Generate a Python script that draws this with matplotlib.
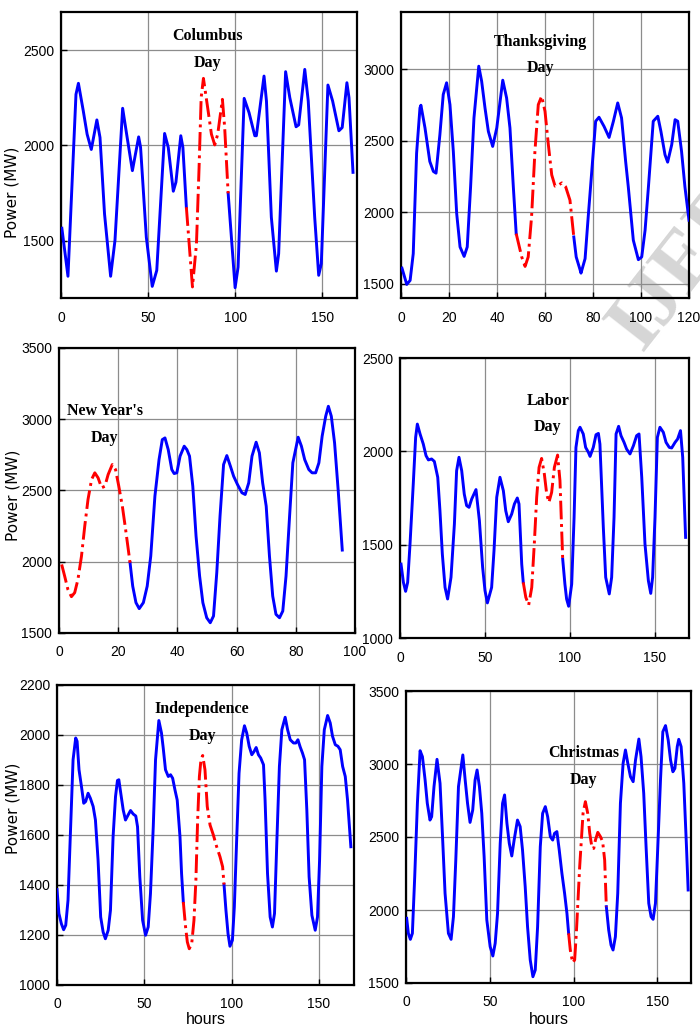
import numpy as np
import matplotlib
matplotlib.use('Agg')
import matplotlib.pyplot as plt

# hourly load around holidays
# each panel: hours, MW, and the (start, end) hour of the holiday part (red)

columbus_hours = [0.5, 4, 8.6, 10, 12.8, 15, 17.4, 20.6, 22.4, 25, 28.5, 31, 35.4, 37.7, 41, 44.6, 45.7, 49, 52.4, 55,
                  59.5, 61.6, 64.5, 66, 68.8, 70, 72,
                  75.5, 77.8, 79.3, 80.5, 81.8, 84.5, 86.4, 88.3, 90, 92.7, 94, 96,
                  100, 101.7, 105.2, 108, 111.3, 112.2, 116.6, 118, 120.8, 123.7, 125, 129, 131.4, 135, 136.5, 140,
                  142, 145.7, 148, 149.5, 153.3, 156, 159.6, 161.5, 164.2, 165.4, 167.7]
columbus_mw = [1566, 1314, 2268, 2326, 2181, 2059, 1979, 2134, 2042, 1641, 1314, 1502, 2195, 2059, 1868, 2045, 1990,
               1519, 1261, 1345, 2063, 1990, 1760, 1807, 2051, 1990, 1676,
               1258, 1484, 1885, 2251, 2352, 2181, 2059, 2003, 2059, 2242, 2094, 1749,
               1254, 1362, 2247, 2172, 2051, 2051, 2364, 2233, 1624, 1341, 1432, 2387, 2251, 2098, 2108, 2399,
               2233, 1624, 1319, 1380, 2317, 2233, 2077, 2094, 2329, 2251, 1859]
columbus_holiday = (72, 96)

thanks_hours = [0.4, 2.4, 3.8, 5.1, 6.5, 7.9, 8.3, 10, 12, 13.5, 14.6, 16.2, 17.6, 19, 20.4, 21.8, 23.2, 24.6, 26.3,
                27.6, 29, 30.4, 32.4, 33.6, 35, 36.4, 38.2, 39.9, 42.4, 44, 45.4, 46.8, 48,
                50.3, 51.7, 53, 54.4, 55.8, 57.2, 58.6, 60, 61.4, 62.8, 64.2, 65.6, 67, 68.6, 70.4, 72,
                73, 74.6, 75, 76.7, 78, 79.7, 81.1, 82.5, 84.6, 86.7, 88.5, 90.3, 91.9, 93.6, 94.7, 96.8, 98.9,
                100.3, 101.7, 103.1, 105.1, 107, 108.3, 110, 111.1, 112.8, 114.2, 115.3, 116.9, 118.3, 120]
thanks_mw = [1609, 1495, 1523, 1710, 2412, 2729, 2748, 2589, 2355, 2285, 2273, 2542, 2823, 2905, 2752, 2425, 1991,
             1757, 1691, 1757, 2178, 2659, 3021, 2916, 2729, 2565, 2460, 2589, 2923, 2799, 2589, 2178, 1850,
             1687, 1621, 1687, 1967, 2425, 2752, 2811, 2706, 2472, 2261, 2182, 2189, 2205, 2178, 2084, 1827,
             1687, 1598, 1574, 1675, 1967, 2332, 2636, 2664, 2600, 2523, 2636, 2764, 2659, 2355, 2178, 1804, 1668,
             1687, 1874, 2178, 2636, 2671, 2565, 2402, 2350, 2472, 2647, 2636, 2425, 2178, 1944]
thanks_holiday = (48, 72)

newyear_hours = [0.9, 1.9, 3, 4.2, 5.3, 6.4, 7.6, 8.7, 9.8, 11, 12.1, 13.2, 14.4, 15.5, 16.6, 18, 19.1, 20.2, 21.4,
                 22.5, 24,
                 24.9, 26, 27.1, 28.5, 29.8, 31, 32.4, 33.8, 34.9, 35.8, 36.9, 38.1, 38.9, 39.8, 40.9, 42.3, 43.2,
                 44.1, 45.2, 46.3, 47.5, 48.6, 49.9, 51.1, 52.2, 53.3, 54.4, 55.6, 56.7, 57.9, 59, 60.3, 61.8,
                 62.9, 64.1, 65.2, 66.6, 67.7, 68.8, 70, 71.1, 72.2, 73.3, 74.5, 75.6, 76.7, 77.9, 79, 80.8, 81.9,
                 83, 84.4, 85.5, 86.7, 87.8, 88.9, 90.1, 91, 92, 93.1, 94.3, 95.7]
newyear_mw = [1981, 1900, 1806, 1755, 1783, 1876, 2040, 2250, 2437, 2577, 2624, 2589, 2519, 2530, 2612, 2682, 2647,
              2530, 2390, 2227, 1993,
              1829, 1713, 1671, 1713, 1829, 2040, 2460, 2717, 2857, 2869, 2787, 2647, 2619, 2624, 2741, 2811, 2787,
              2741, 2530, 2180, 1900, 1713, 1607, 1572, 1619, 1923, 2320, 2682, 2745, 2671, 2600, 2542, 2484,
              2472, 2554, 2741, 2839, 2764, 2554, 2390, 2040, 1759, 1631, 1607, 1654, 1900, 2320, 2694, 2874, 2811,
              2717, 2647, 2624, 2624, 2694, 2881, 3021, 3091, 3021, 2834, 2507, 2082]
newyear_holiday = (0, 24)

labor_hours = [0.6, 2, 3.3, 4.5, 5.9, 7.8, 9.2, 10.2, 11.8, 13.7, 15.3, 16.7, 18.6, 20.2, 22.2, 23.5, 24.9, 26.5, 28,
               30, 32, 33.3, 34.7, 36.3, 37.8, 39.2, 40.6, 42.2, 44.7, 46.7, 48.6, 50, 51.4, 53.9, 55.3, 56.9, 58.8,
               60.8, 62.2, 63.7, 65.7, 67.3, 69, 70, 71.6, 72.5,
               74, 75.7, 77.5, 79, 80.4, 81.8, 83.3, 84.9, 86.3, 87.6, 89.2, 90.8, 92.7, 94.1, 95.7,
               97, 98, 99.2, 101, 102.4, 103.5, 104.9, 105.9, 107.8, 109.2, 110.8, 111.8, 113.7, 115.3, 116.7, 117.6,
               119.6, 121, 123.1, 124.5, 125.9, 127.1, 128.6, 130, 131.8, 133.3, 135.3, 137.3, 139.2, 140.6, 142.2,
               144.1, 146.1, 147.5, 148.6, 150, 151.4, 152.9, 154.9, 156.5, 158.4, 159.8, 161.8, 163.3, 165, 166.3,
               168]
labor_mw = [1396, 1298, 1250, 1298, 1504, 1825, 2075, 2146, 2093, 2039, 1977, 1954, 1959, 1946, 1861, 1682, 1450, 1271,
            1209, 1325, 1611, 1896, 1968, 1896, 1771, 1709, 1700, 1745, 1795, 1629, 1379, 1254, 1188, 1271, 1468, 1754,
            1861, 1789, 1682, 1623, 1664, 1718, 1750, 1718, 1396, 1298,
            1218, 1177, 1271, 1504, 1754, 1914, 1962, 1879, 1771, 1727, 1780, 1914, 1980, 1843, 1423,
            1289, 1209, 1170, 1289, 1646, 2021, 2111, 2129, 2093, 2021, 1995, 1973, 2021, 2089, 2096, 2039,
            1593, 1325, 1236, 1325, 1646, 2093, 2134, 2084, 2048, 2012, 1986, 2030, 2084, 2093, 1861,
            1504, 1307, 1239, 1325, 1646, 2075, 2129, 2102, 2048, 2021, 2018, 2048, 2066, 2111, 1968,
            1539]
labor_holiday = (72.5, 95.7)

indep_hours = [0, 1.1, 2.5, 3.8, 5, 6.3, 7.6, 9.2, 10.7, 11.5, 12.6, 14, 15.3, 16.4, 17.8, 19.1, 20.7, 22, 23.5, 25,
               26.4, 27.7, 29.3, 30.6, 32.1, 33.5, 34.6, 35.4, 36.5, 37.9, 39.2, 40.7, 42.1, 43.6, 45.1, 46.1, 47.4,
               49, 50.7, 52.2, 53.5, 55.1, 56.4, 58.3, 59.8, 60.8, 62.1, 63.7, 65, 66.2, 67.5, 68.8, 70.4, 71.3, 72.3,
               73.6, 74.6, 75.7, 77.1, 78.4, 79.5, 80.5, 81.5, 82.4, 83.4, 84.7, 86, 87.6, 89.5, 91.4, 93.3, 94.8,
               95.6,
               96.7, 97.9, 99, 100.4, 101.5, 102.9, 104.2, 105.7, 107.3, 108.6, 110, 111.5, 112.8, 114, 115.3, 116.6,
               118.2, 119.1, 120.5, 122, 123.3, 124.5, 125.8, 127.3, 128.7, 130.6, 132, 133.5, 135.4, 136.7, 137.9,
               139.2, 140.5, 141.7, 143, 144.3, 145.9, 147.8, 149.1, 150.3, 151.6, 153, 154.9, 156.4, 157.7, 159.3,
               160.8, 162.1, 163.5, 165, 166.3, 168.2]
indep_mw = [1382, 1286, 1245, 1221, 1239, 1339, 1593, 1901, 1988, 1975, 1861, 1794, 1727, 1734, 1767, 1747, 1714, 1660,
            1500, 1272, 1212, 1185, 1219, 1299, 1593, 1754, 1818, 1821, 1767, 1700, 1660, 1680, 1698, 1684, 1676, 1633,
            1433, 1259, 1199, 1232, 1366, 1633, 1901, 2058, 2008, 1948, 1861, 1834, 1841, 1827, 1781, 1740, 1593, 1446,
            1332,
            1232, 1172, 1145, 1165, 1259, 1419, 1660, 1834, 1901, 1918, 1861, 1714, 1640, 1600, 1553, 1513, 1473, 1402,
            1299, 1205, 1155, 1179, 1312, 1593, 1847, 1981, 2037, 2008, 1955, 1921, 1934, 1950, 1921, 1908,
            1881, 1740, 1446, 1272, 1232, 1286, 1567, 1874, 2021, 2071, 2021, 1981, 1968, 1968, 1981,
            1952, 1928, 1901, 1700, 1433, 1279, 1219, 1272, 1500, 1874, 2021, 2078, 2048, 1995, 1961,
            1955, 1941, 1874, 1834, 1740, 1553]
indep_holiday = (72.3, 95.6)

xmas_hours = [0.4, 1.4, 2.6, 3.8, 5.2, 6.8, 8.4, 9.8, 11.4, 12.7, 14.3, 15.3, 16.7, 18.5, 20.3, 21.7, 23.3, 25.3, 26.9,
              28.3, 29.7, 31.3, 33.9, 35.3, 36.7, 38.2, 39.8, 41.2, 42.4, 43.8, 45.2, 46.6, 48.2, 50.2, 51.8, 53.2,
              54.6, 56.2, 57.6, 58.8, 60.2, 61.6, 63.1, 64.5, 66.5, 68.1, 69.5, 71.1, 72.5, 74.1, 75.7, 77.1, 78.5,
              80.1, 81.5, 83.1, 84.5, 86.1, 87.5, 88.6, 90, 91.4, 93, 94.6, 96, 97,
              98, 99.4, 100.6, 101.6, 102.6, 103.6, 104.6, 105.6, 107, 108.4, 109.6, 111, 112, 113, 114.4, 116,
              117.3, 118.5, 119.5,
              120.9, 122.3, 123.5, 124.9, 126.3, 127.9, 129.5, 130.9, 132.3, 133.9, 135.5, 136.9, 138.9, 140.2,
              141.8, 143.2, 144.8, 146.2, 147.4, 148.8, 150.2, 151.8, 153.2, 154.8, 156.4, 157.8, 159.2, 160.4,
              161.8, 162.7, 164.1, 165.7, 167.3, 168.3]
xmas_mw = [1943, 1840, 1799, 1840, 2228, 2731, 3091, 3050, 2890, 2731, 2616, 2639, 2845, 3032, 2868, 2525, 2114, 1840,
           1799, 1954, 2342, 2845, 3062, 2890, 2731, 2600, 2685, 2890, 2959, 2845, 2662, 2365, 1932, 1749, 1685, 1772,
           1977, 2457, 2731, 2788, 2594, 2457, 2370, 2479, 2616, 2571, 2411, 2160, 1886, 1658, 1543, 1589, 1886,
           2434, 2662, 2708, 2639, 2502, 2479, 2525, 2537, 2411, 2251, 2114, 1977, 1840,
           1726, 1639, 1658, 1840, 2068, 2297, 2479, 2662, 2742, 2662, 2525, 2422, 2422, 2479, 2532, 2502,
           2468, 2342, 2023,
           1863, 1760, 1726, 1817, 2114, 2731, 3005, 3096, 3005, 2913, 2879, 3027, 3171, 3050,
           2799, 2434, 2046, 1954, 1936, 2046, 2434, 2890, 3221, 3263, 3164, 3027, 2947, 2970,
           3119, 3169, 3119, 2868, 2434, 2137]
xmas_holiday = (97, 119.5)

# axes boxes in pixels (left, top, right, bottom) on a 700x1032 canvas
W, H = 700, 1032
boxes = [(61, 12, 357, 298), (401, 12, 689, 298),
         (59, 348, 355, 633), (400, 358, 689, 638),
         (57, 685, 354, 985), (406, 691, 691, 983)]

panels = [
    # hours, mw, holiday, xlim, ylim, yticks, xticks, label, label pos
    (columbus_hours, columbus_mw, columbus_holiday, (0, 170), (1200, 2700), [1500, 2000, 2500],
     [0, 50, 100, 150], 'Columbus\nDay', (84, 2505)),
    (thanks_hours, thanks_mw, thanks_holiday, (0, 120), (1400, 3400), [1500, 2000, 2500, 3000],
     [0, 20, 40, 60, 80, 100, 120], 'Thanksgiving\nDay', (58, 3100)),
    (newyear_hours, newyear_mw, newyear_holiday, (0, 100), (1500, 3500), [1500, 2000, 2500, 3000, 3500],
     [0, 20, 40, 60, 80, 100], "New Year's\nDay", (15.5, 2965)),
    (labor_hours, labor_mw, labor_holiday, (0, 170), (1000, 2500), [1000, 1500, 2000, 2500],
     [0, 50, 100, 150], 'Labor\nDay', (87, 2200)),
    (indep_hours, indep_mw, indep_holiday, (0, 170), (1000, 2200), [1000, 1200, 1400, 1600, 1800, 2000, 2200],
     [0, 50, 100, 150], 'Independence\nDay', (83, 2050)),
    (xmas_hours, xmas_mw, xmas_holiday, (0, 170), (1500, 3500), [1500, 2000, 2500, 3000, 3500],
     [0, 50, 100, 150], 'Christmas\nDay', (106, 2983)),
]

# where the "Power (MW)" label sits (pixel y of its centre) for the left column
ylabel_y = {0: 192, 2: 495, 4: 808}

tick_font = ['Liberation Sans']
label_font = ['Liberation Serif']

fig = plt.figure(figsize=(W / 100, H / 100), dpi=100)

# journal watermark, drawn under the (transparent) axes
fig.text(0.852, 0.648, 'IJERT', rotation=52, fontsize=60, family='Liberation Serif', fontweight='bold',
         color='#d6d6d6', ha='left', va='bottom', zorder=-5)

for i, (box, p) in enumerate(zip(boxes, panels)):
    hrs, mw, hol, xl, yl, yt, xt, txt, tpos = p
    hrs = np.array(hrs)
    mw = np.array(mw)
    l, t, r, b = box
    ax = fig.add_axes([l / W, 1 - b / H, (r - l) / W, (b - t) / H])
    ax.patch.set_alpha(0)

    before = hrs <= hol[0]
    during = (hrs >= hol[0]) & (hrs <= hol[1])
    after = hrs >= hol[1]
    ax.plot(hrs[before], mw[before], color='#0000ff', lw=2.1, zorder=3)
    ax.plot(hrs[after], mw[after], color='#0000ff', lw=2.1, zorder=3)
    ax.plot(hrs[during], mw[during], color='#ff0000', lw=2.1, ls='-.', zorder=3)

    ax.set_xlim(xl)
    ax.set_ylim(yl)
    ax.set_xticks(xt)
    ax.set_yticks(yt)
    ax.grid(True, color='#8c8c8c', lw=0.9)
    ax.set_axisbelow(True)
    ax.tick_params(direction='in', length=4, width=1, labelsize=10)
    ax.tick_params(axis='x', pad=9)
    ax.tick_params(axis='y', pad=5)
    for lab in ax.get_xticklabels() + ax.get_yticklabels():
        lab.set_family(tick_font)
    for s in ax.spines.values():
        s.set_linewidth(1.6)

    ax.text(tpos[0], tpos[1], txt, ha='center', va='center', family=label_font,
            fontweight='bold', fontsize=11.5, linespacing=1.9, zorder=4)

    if i % 2 == 0:
        ax.set_ylabel('Power (MW)', fontsize=11, family='DejaVu Sans')
        # pin the label near x ~ 20 px on the canvas
        ax.yaxis.set_label_coords((20 - l) / (r - l), (b - ylabel_y[i]) / (b - t))
    if i >= 4:
        ax.set_xlabel('hours', fontsize=11.5, family=tick_font)
        ax.xaxis.set_label_coords(0.5, -(1012 - b) / (b - t))

plt.savefig('out.png', dpi=100)
